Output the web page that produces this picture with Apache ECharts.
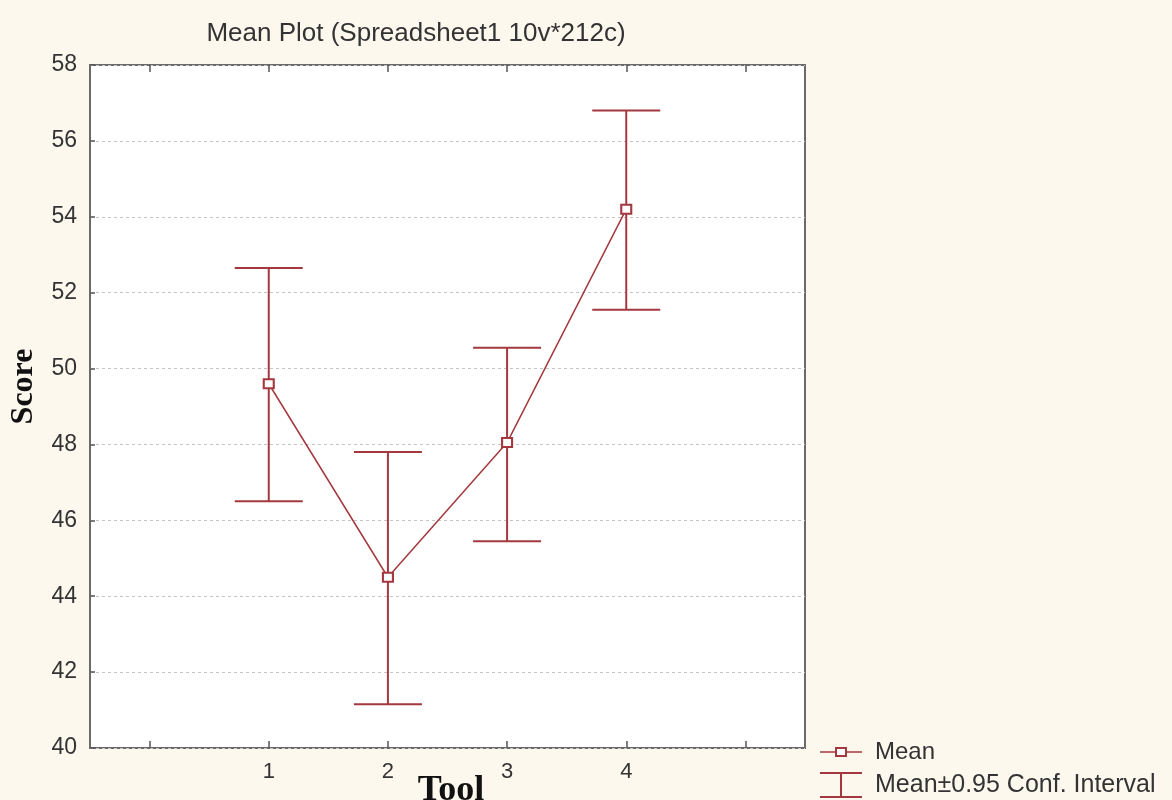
<!DOCTYPE html>
<html><head><meta charset="utf-8">
<script src="https://cdn.jsdelivr.net/npm/echarts@6/dist/echarts.min.js"></script>
<style>html,body{margin:0;padding:0;background:#fdf8ee}#c{width:1172px;height:800px}</style>
</head><body><div id="c"></div>
<script>
// Data
const categories = ['', '1', '2', '3', '4', ''];
const tools = ['1', '2', '3', '4'];
const means = [49.6, 44.5, 48.05, 54.2];
const upperCI = [52.65, 47.8, 50.55, 56.8];
const lowerCI = [46.5, 41.15, 45.45, 51.55];
const yMin = 40, yMax = 58, yStep = 2;

const C = '#a3393e';
const FONT = '"Liberation Sans", Arial, sans-serif';
const SERIF = '"Liberation Serif", "Times New Roman", serif';

const chart = echarts.init(document.getElementById('c'), null, {renderer: 'canvas'});
const ciData = tools.map((t, i) => [t, lowerCI[i], upperCI[i]]);
const meanData = tools.map((t, i) => [t, means[i]]);

chart.setOption({
  backgroundColor: '#fdf8ee',
  animation: false,
  title: {
    text: 'Mean Plot (Spreadsheet1 10v*212c)',
    left: 411, top: 16, textAlign: 'center',
    textStyle: {fontFamily: FONT, fontSize: 26, fontWeight: 'normal', color: '#333'}
  },
  grid: {left: 90, right: 367, top: 65, bottom: 52, outerBoundsMode: 'none', containLabel: false,
         show: true, backgroundColor: '#ffffff', borderColor: '#6a6a6a', borderWidth: 2},
  xAxis: [{
    type: 'category', data: categories, position: 'bottom',
    name: 'Tool', nameLocation: 'middle', nameGap: 25, nameMoveOverlap: false,
    nameTextStyle: {fontFamily: SERIF, fontWeight: 'bold', fontSize: 36, color: '#111', padding: [0, 0, 0, 7]},
    axisLine: {show: false},
    axisTick: {show: true, inside: true, alignWithLabel: true, length: 7, lineStyle: {color: '#555', width: 1.5}},
    axisLabel: {fontFamily: FONT, fontSize: 22, color: '#333', margin: 13},
    splitLine: {show: false}
  }, {
    type: 'category', data: categories, position: 'top',
    axisLine: {show: false},
    axisTick: {show: true, inside: true, alignWithLabel: true, length: 7, lineStyle: {color: '#555', width: 1.5}},
    axisLabel: {show: false}, splitLine: {show: false}
  }],
  yAxis: {
    type: 'value', min: yMin, max: yMax, interval: yStep,
    name: 'Score', nameLocation: 'middle', nameGap: 50, nameRotate: 90, nameMoveOverlap: false,
    nameTextStyle: {fontFamily: SERIF, fontWeight: 'bold', fontSize: 32, color: '#111', padding: [0, 0, 0, 40]},
    axisLine: {show: false},
    axisTick: {show: true, inside: true, length: 5, lineStyle: {color: '#555', width: 1.5}},
    axisLabel: {fontFamily: FONT, fontSize: 23, color: '#333', margin: 13},
    splitLine: {show: true, lineStyle: {color: '#c4c4c4', type: [3, 3], width: 1}}
  },
  series: [{
    type: 'custom', data: ciData, z: 2,
    encode: {x: 0, y: [1, 2]},
    renderItem: function (params, api) {
      const x = api.value(0);
      const pHi = api.coord([x, api.value(2)]);
      const pLo = api.coord([x, api.value(1)]);
      const hw = 34;
      const st = {stroke: C, lineWidth: 2};
      return {type: 'group', children: [
        {type: 'line', shape: {x1: pHi[0], y1: pHi[1], x2: pLo[0], y2: pLo[1]}, style: st},
        {type: 'line', shape: {x1: pHi[0] - hw, y1: pHi[1], x2: pHi[0] + hw, y2: pHi[1]}, style: st},
        {type: 'line', shape: {x1: pLo[0] - hw, y1: pLo[1], x2: pLo[0] + hw, y2: pLo[1]}, style: st}
      ]};
    }
  }, {
    type: 'line', data: meanData, z: 3,
    symbol: 'rect', symbolSize: [10, 9],
    lineStyle: {color: C, width: 1.5},
    itemStyle: {color: '#ffffff', borderColor: C, borderWidth: 2}
  }],
  graphic: [
    {type: 'line', shape: {x1: 820, y1: 752, x2: 862, y2: 752}, style: {stroke: C, lineWidth: 1.5}},
    {type: 'rect', shape: {x: 836, y: 748, width: 10, height: 8}, style: {fill: '#fff', stroke: C, lineWidth: 2}},
    {type: 'text', left: 875, top: 740, style: {text: 'Mean', font: '24px ' + FONT, fill: '#333'}},
    {type: 'line', shape: {x1: 820, y1: 773, x2: 862, y2: 773}, style: {stroke: C, lineWidth: 2}},
    {type: 'line', shape: {x1: 841, y1: 773, x2: 841, y2: 797}, style: {stroke: C, lineWidth: 2}},
    {type: 'line', shape: {x1: 820, y1: 797, x2: 862, y2: 797}, style: {stroke: C, lineWidth: 2}},
    {type: 'text', left: 875, top: 773, style: {text: 'Mean±0.95 Conf. Interval', font: '25px ' + FONT, fill: '#333'}}
  ]
});
</script>
</body></html>
